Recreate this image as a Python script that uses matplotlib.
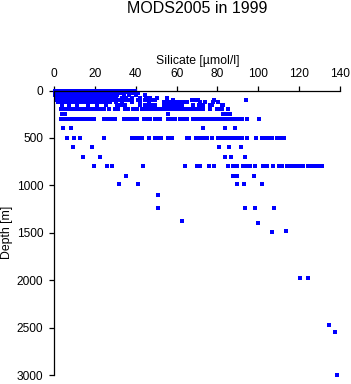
import matplotlib

matplotlib.use("Agg")
import matplotlib.pyplot as plt

plt.rcParams["font.family"] = ["Liberation Sans", "DejaVu Sans"]

# silicate [umol/l] read per sampling depth [m]
si_0m = [0.1, 1.3, 2.6, 3.9, 5.2, 6.4, 7.7, 9.0, 10.3, 11.5, 12.8, 14.1, 15.4, 16.6, 17.9, 19.2,
         20.5, 21.7, 23.0, 24.3, 25.6, 26.8, 28.1, 29.4, 30.7, 31.9, 33.2, 34.5, 35.8, 39.7]
si_10m = [0.3, 1.5, 2.8, 4.1, 5.4, 6.7, 7.9, 9.2, 10.5, 11.8, 13.1, 14.3, 15.6, 16.9, 18.2, 19.5,
          20.7, 22.0, 23.3, 24.6, 25.9, 27.1, 28.4, 29.7, 31.0, 32.3, 33.6, 34.8, 37.5]
si_20m = [0.2, 1.4, 2.7, 4.0, 5.3, 6.6, 7.8, 9.1, 10.4, 11.7, 13.0, 14.2, 15.5, 16.8, 18.1, 19.4,
          20.6, 21.9, 23.2, 24.5, 25.8, 27.0, 28.3, 29.6, 30.9, 32.1, 33.4, 36.1]
si_30m = [0.4, 1.7, 3.0, 4.3, 5.5, 6.8, 8.1, 9.4, 10.7, 11.9, 13.2, 14.5, 15.8, 17.1, 18.3, 19.6,
          20.9, 22.2, 23.5, 24.7, 26.0, 27.3, 28.6, 29.9, 31.2, 32.4, 38.0, 41.2]
si_50m = [0.3, 1.6, 2.9, 4.2, 5.4, 6.7, 8.0, 9.3, 10.6, 11.8, 13.1, 14.4, 15.7, 17.0, 18.2, 19.5,
          20.8, 22.1, 23.4, 24.6, 25.9, 27.2, 28.5, 29.8, 31.0, 34.2, 36.5, 40.1, 44.3]
si_75m = [0.6, 1.9, 3.2, 4.5, 5.8, 7.0, 8.3, 9.6, 10.9, 12.2, 13.4, 14.7, 16.0, 17.3, 18.6, 19.8,
          21.1, 22.4, 23.7, 25.0, 26.2, 27.5, 28.8, 30.1, 33.0, 35.2, 38.3, 42.1, 45.0, 47.2,
          50.6, 55.5]
si_100m = [1.0, 2.3, 3.6, 4.9, 6.2, 7.4, 8.7, 10.0, 11.3, 12.6, 13.8, 15.1, 16.4, 17.7, 19.0,
           20.2, 21.5, 22.8, 24.1, 25.4, 26.6, 27.9, 29.2, 31.5, 34.0, 36.2, 41.0, 44.6, 46.1,
           48.0, 49.5, 58.3, 67.5, 68.6, 69.8, 70.7, 78.6, 94.3]
si_125m = [1.8, 3.1, 4.4, 5.7, 6.9, 8.2, 9.5, 10.8, 12.1, 13.3, 14.6, 15.9, 17.2, 18.5, 19.7,
           21.0, 22.3, 23.6, 24.9, 26.1, 27.4, 30.2, 33.1, 38.0, 42.2, 46.3, 54.0, 55.5, 57.1,
           58.6, 60.1, 61.8, 63.4, 64.5, 65.3, 71.6, 74.0, 78.0, 80.5]
si_150m = [4.0, 7.2, 11.1, 16.3, 21.0, 25.2, 30.7, 32.0, 33.5, 34.8, 42.0, 44.6, 46.0, 47.5,
           49.5, 54.0, 55.5, 57.0, 59.0, 60.2, 61.8, 62.6, 68.3, 71.2, 72.9, 76.5, 77.3, 82.2, 83.0]
si_200m = [3.4, 4.6, 5.8, 7.0, 8.2, 9.4, 10.6, 11.8, 13.0, 14.2, 15.4, 16.0, 17.5, 19.0, 20.4,
           22.2, 24.5, 27.0, 29.9, 30.7, 31.5, 34.5, 35.5, 36.4, 38.6, 39.7, 40.8, 43.0, 44.1,
           45.4, 46.6, 47.6, 48.7, 50.3, 51.5, 52.7, 53.9, 55.1, 56.3, 57.5, 58.7, 59.9, 61.1,
           62.3, 63.5, 64.7, 65.9, 66.7, 67.5, 68.7, 69.9, 71.1, 72.3, 73.2, 76.5, 79.7, 80.8,
           82.2, 85.4]
si_250m = [3.8, 5.4, 56.0, 83.0, 84.6, 86.3]
si_300m = [3.4, 4.6, 5.8, 7.0, 8.2, 9.8, 11.1, 12.4, 13.8, 15.2, 16.3, 17.9, 19.6, 24.2, 25.6,
           27.1, 28.5, 29.9, 34.0, 35.6, 37.3, 38.9, 40.8, 43.8, 45.4, 47.0, 49.5, 50.8, 52.0,
           56.0, 57.6, 59.3, 61.8, 63.4, 65.0, 68.3, 69.5, 70.7, 71.9, 73.1, 74.3, 75.5, 76.7,
           78.0, 79.0, 80.3, 81.6, 83.0, 84.2, 85.5, 86.8, 88.1, 89.4, 90.7, 92.0, 94.8, 100.6]
si_400m = [4.1, 8.2, 72.9, 84.0, 88.9]
si_500m = [6.2, 9.5, 12.4, 24.2, 38.0, 39.5, 41.0, 43.0, 46.7, 49.2, 50.6, 52.3, 56.0, 57.8,
           65.0, 66.3, 69.5, 70.9, 73.0, 75.0, 77.3, 80.5, 82.0, 84.0, 85.4, 86.6, 88.0, 90.0,
           92.0, 94.7, 99.0, 101.8, 103.4, 105.0, 107.0, 109.2, 110.8, 112.7]
si_600m = [9.2, 18.3, 81.0, 86.0, 91.8]
si_700m = [14.0, 22.2, 84.0, 86.9, 93.8]
si_800m = [19.3, 25.8, 28.1, 43.5, 64.2, 69.9, 71.6, 76.1, 78.6, 85.4, 87.5, 89.6, 92.8, 94.5,
           96.0, 98.5, 102.3, 104.3, 107.5, 110.3, 112.0, 114.0, 116.0, 118.0, 120.0, 122.0,
           124.4, 126.3, 128.0, 130.0, 131.5]
si_900m = [35.1, 87.9, 89.9, 97.9]
si_990m = [31.9, 41.0, 89.9, 93.0, 101.8]
si_1100m = [51.1]
si_1240m = [51.1, 93.8, 98.7, 108.0]

# isolated deep samples
deep_si = [62.9, 99.8, 107.0, 113.7, 120.7, 124.7, 134.8, 137.7, 138.9]
deep_depth = [1375, 1400, 1490, 1482, 1982, 1978, 2474, 2548, 2995]

levels = [
    (0, si_0m), (10, si_10m), (20, si_20m), (30, si_30m), (50, si_50m), (75, si_75m),
    (100, si_100m), (125, si_125m), (150, si_150m), (200, si_200m), (250, si_250m),
    (300, si_300m), (400, si_400m), (500, si_500m), (600, si_600m), (700, si_700m),
    (800, si_800m), (900, si_900m), (990, si_990m), (1100, si_1100m), (1240, si_1240m),
]

silicate = [v for _, row in levels for v in row] + deep_si
depth = [d for d, row in levels for _ in row] + deep_depth

W, H = 351, 384
fig = plt.figure(figsize=(W / 100, H / 100), dpi=100)
ax = fig.add_axes([54.3 / W, 1 - 375 / H, (339.5 - 54.3) / W, (375 - 90.5) / H])

ax.plot(silicate, depth, linestyle="none", marker="s", markersize=2.2,
        markeredgewidth=0, color="#0000ff", clip_on=False)

ax.set_xlim(0, 140)
ax.set_ylim(3000, 0)

for side in ("bottom", "right"):
    ax.spines[side].set_visible(False)
ax.spines["top"].set_bounds(0, 140)
ax.spines["left"].set_bounds(0, 3000)
for side in ("top", "left"):
    ax.spines[side].set_linewidth(0.9)

ax.xaxis.tick_top()
ax.set_xticks(range(0, 141, 20))
ax.set_yticks(range(0, 3001, 500))
ax.tick_params(axis="x", direction="out", length=3.6, width=0.9, pad=4, labelsize=8.6)
ax.tick_params(axis="y", direction="out", length=3.6, width=0.9, pad=4.3, labelsize=8.6)

fig.text(196.75 / W, 1 - 13.3 / H, "MODS2005 in 1999", ha="center", va="baseline", fontsize=11.5)
fig.text(198 / W, 1 - 64 / H, "Silicate [µmol/l]", ha="center", va="baseline", fontsize=8.8)
fig.text(7.5 / W, 1 - 232.5 / H, "Depth [m]", ha="center", va="center", rotation=90, fontsize=8.8)

fig.savefig("out.png", dpi=100)
